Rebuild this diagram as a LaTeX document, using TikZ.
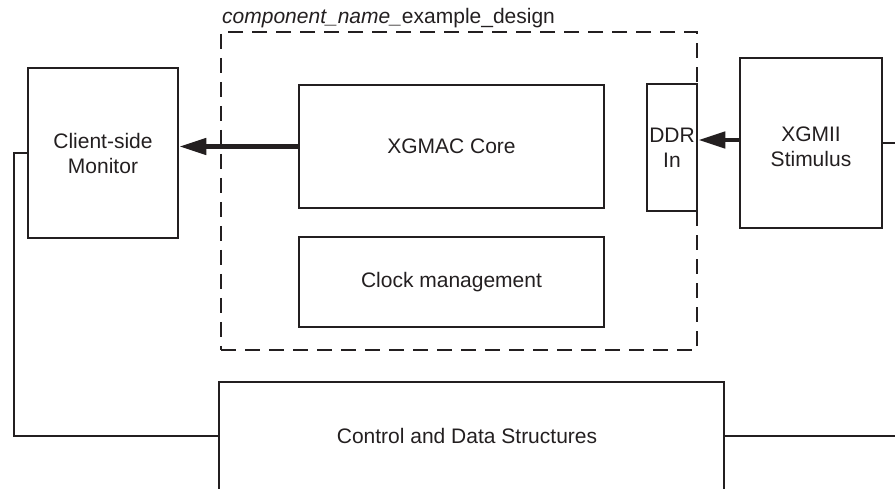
\documentclass[tikz,border=0pt]{standalone}
\usepackage{fontspec}
\setmainfont{Liberation Sans}
\usetikzlibrary{arrows.meta}
\definecolor{ink}{RGB}{35,31,32}
\begin{document}
\begin{tikzpicture}[x=1pt,y=-1pt,
  every node/.style={font=\fontsize{21}{25}\selectfont, text=ink, align=center, inner sep=0pt},
  blk/.style={draw=ink, line width=2.5pt, rectangle},
  frame/.style={draw=ink, line width=2.5pt, dash pattern=on 15pt off 9pt},
  wire/.style={draw=ink, line width=2pt},
  bus/.style={draw=ink, line width=4.5pt, -{Triangle[length=27pt,width=16pt]}}
]
\useasboundingbox (0,0) rectangle (895,489);

% example design boundary and its title
\node[frame, minimum width=476pt, minimum height=318pt] (design) at (459,191) {};
\node[anchor=base west] (designlbl) at (222,24) {\textit{component\_name\_}example\_design};

% blocks
\node[blk, minimum width=150pt, minimum height=170pt] (client) at (103,153) {Client-side\\Monitor};
\node[blk, minimum width=305pt, minimum height=123pt] (xgmac) at (451.5,146.5) {XGMAC Core};
\node[blk, minimum width=305pt, minimum height=90pt] (clock) at (451.5,282) {Clock management};
\node[blk, minimum width=50pt, minimum height=127pt] (ddr) at (672,147.5) {DDR\\In};
\node[blk, minimum width=142pt, minimum height=170pt] (xgmii) at (811,143) {};
\node (xgmiitxt) at (811,147) {XGMII\\Stimulus};
\node[blk, minimum width=505pt, minimum height=138pt] (ctrl) at (471.5,451) {};
\node (ctrltxt) at (467,436) {Control and Data Structures};

% data paths
\coordinate (ddrin) at (0,140);
\draw[bus] (xgmac.west) -- (client.east |- xgmac.west);
\draw[bus] (xgmii.west |- ddrin) -- (ddr.east |- ddrin);

% control connections
\coordinate (lrail) at (13.5,436);
\coordinate (redge) at (895,436);
\draw[wire] (client.west) -| (lrail) -- (ctrl.west |- lrail);
\draw[wire] (ctrl.east |- redge) -- (redge);
\draw[wire] (xgmii.east) -- (xgmii.east -| redge);
\end{tikzpicture}
\end{document}
